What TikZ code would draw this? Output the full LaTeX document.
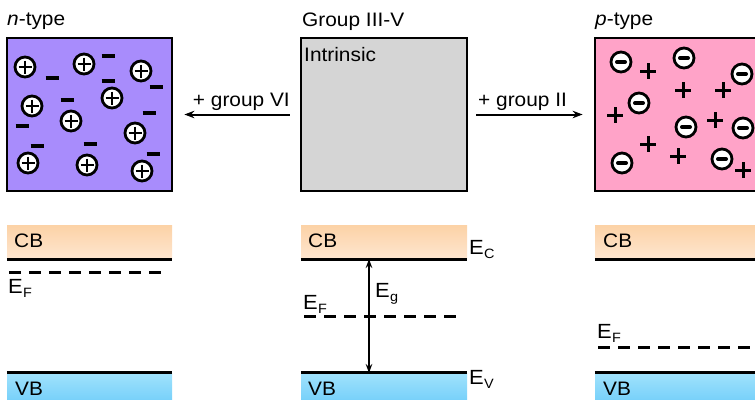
\documentclass[tikz,border=0pt]{standalone}
\usepackage{fontspec}
\setmainfont{Liberation Sans}[FakeStretch=1.07]
\usetikzlibrary{arrows.meta}
\definecolor{nfill}{RGB}{168,140,252}
\definecolor{pfill}{RGB}{255,163,200}
\definecolor{gfill}{RGB}{213,213,213}
\definecolor{cbtop}{RGB}{252,210,166}
\definecolor{cbbot}{RGB}{254,230,208}
\definecolor{vbtop}{RGB}{160,226,252}
\definecolor{vbbot}{RGB}{118,208,250}
\tikzset{
  txt/.style={font=\fontsize{19.5}{22}\selectfont, inner sep=0pt},
  box/.style={draw, line width=2.8pt, minimum height=153pt, inner sep=0pt},
  cbband/.style={top color=cbtop, bottom color=cbbot, draw=none, minimum height=34pt, inner sep=0pt},
  vbband/.style={top color=vbtop, bottom color=vbbot, draw=none, minimum height=28pt, inner sep=0pt},
  bandline/.style={line width=3pt},
  fermi/.style={line width=3pt, dash pattern=on 12pt off 8pt},
  grouparrow/.style={line width=2pt, -{Stealth[length=10pt,width=7.5pt]}},
  egarrow/.style={line width=1.8pt, {Stealth[length=9pt,width=6.5pt]}-{Stealth[length=9pt,width=6.5pt]}},
  pion/.pic={\draw[line width=2.8pt, fill=white] (0,0) circle (10pt);
             \draw[line width=2.2pt] (-6.5,0)--(6.5,0) (0,-6.5)--(0,6.5);},
  nion/.pic={\draw[line width=2.8pt, fill=white] (0,0) circle (10pt);
             \draw[line width=4pt, line cap=round] (-4,0)--(4,0);},
  mbar/.pic={\draw[line width=4pt] (-6.5,0)--(6.5,0);},
  pbar/.pic={\draw[line width=3pt] (-8,0)--(8,0) (0,-8)--(0,8);}
}
\newcommand{\Elab}[1]{{\fontsize{20.5}{20}\selectfont E}\kern0.3pt\raisebox{-4.5pt}{\fontsize{13.5}{13}\selectfont #1}}
\begin{document}
\begin{tikzpicture}[x=1pt,y=-1pt]
\useasboundingbox (0,0) rectangle (755,399);
% titles
\node[txt, anchor=base west] (tn) at (7,25) {\textit{n}-type};
\node[txt, anchor=base west] (tc) at (302,26) {Group III-V};
\node[txt, anchor=base west] (tp) at (595,25) {\textit{p}-type};
% boxes
\node[box, fill=nfill, minimum width=165pt] (nbox) at (89.5,114.5) {};
\node[box, fill=gfill, minimum width=166pt] (cbox) at (384,114.5) {};
\node[box, fill=pfill, minimum width=166pt] (pbox) at (678,114.5) {};
\node[txt, anchor=base west] (intr) at (304,61) {Intrinsic};
% arrows
\draw[grouparrow, shorten <=10pt, shorten >=11pt] (cbox.west) -- (nbox.east);
\draw[grouparrow, shorten <=8pt, shorten >=11pt] (cbox.east) -- (pbox.west);
\node[txt, anchor=base east] (g6) at (290,106.5) {+ group VI};
\node[txt, anchor=base west] (g2) at (478,106) {+ group II};
% n-type ions
\foreach \p in {(25,67),(84,64),(141,71),(32,106),(112,98),(71,121),(135,133),(28,163),(87,165),(142,171)}
  \pic at \p {pion};
\foreach \p in {(52,78),(108,56),(108,81),(156,87),(67,100),(149,113),(22,126),(37,146),(90,144),(153,154)}
  \pic at \p {mbar};
% p-type ions
\foreach \p in {(621,62),(684,58),(742,74),(639,103),(686,127),(743,128),(622,163),(722,159)}
  \pic at \p {nion};
\foreach \p in {(648,71),(683,90),(723,90),(615,115),(715,120),(648,144),(678,156),(743,170)}
  \pic at \p {pbar};
% bands
\node[cbband, minimum width=165pt] (cb1) at (89.5,242) {};
\node[cbband, minimum width=166pt] (cb2) at (384,242) {};
\node[cbband, minimum width=166pt] (cb3) at (678,242) {};
\node[vbband, minimum width=165pt] (vb1) at (89.5,387) {};
\node[vbband, minimum width=166pt] (vb2) at (384,387) {};
\node[vbband, minimum width=166pt] (vb3) at (678,387) {};
\foreach \b in {cb1,cb2,cb3} \draw[bandline] (\b.south west) -- (\b.south east);
\foreach \b in {vb1,vb2,vb3} \draw[bandline] (\b.north west) -- (\b.north east);
\node[txt, anchor=base west] (lcb1) at (14,247) {CB};
\node[txt, anchor=base west] (lcb2) at (308,247) {CB};
\node[txt, anchor=base west] (lcb3) at (603,247) {CB};
\node[txt, anchor=base west] (lvb1) at (15,395) {VB};
\node[txt, anchor=base west] (lvb2) at (308,395) {VB};
\node[txt, anchor=base west] (lvb3) at (603,395) {VB};
% Fermi levels
\coordinate (f1a) at (9,272); \coordinate (f1b) at (166,272);
\coordinate (f2a) at (304,316); \coordinate (f2b) at (460,316);
\coordinate (f3a) at (598,347); \coordinate (f3b) at (760,347);
\draw[fermi] (f1a) -- (f1b);
\draw[fermi] (f2a) -- (f2b);
\draw[fermi] (f3a) -- (f3b);
\node[txt, anchor=base west] (ef1) at (8,293) {\Elab{F}};
\node[txt, anchor=base west] (ef2) at (303,309) {\Elab{F}};
\node[txt, anchor=base west] (ef3) at (597,338) {\Elab{F}};
% gap
\coordinate (egt) at (369,259); \coordinate (egb) at (369,373);
\draw[egarrow] (egt) -- (egb);
\node[txt, anchor=base west] (eg) at (375,297) {\Elab{g}};
\node[txt, anchor=base west] (ec) at (469,254) {\Elab{C}};
\node[txt, anchor=base west] (ev) at (469,384) {\Elab{V}};
\end{tikzpicture}
\end{document}
